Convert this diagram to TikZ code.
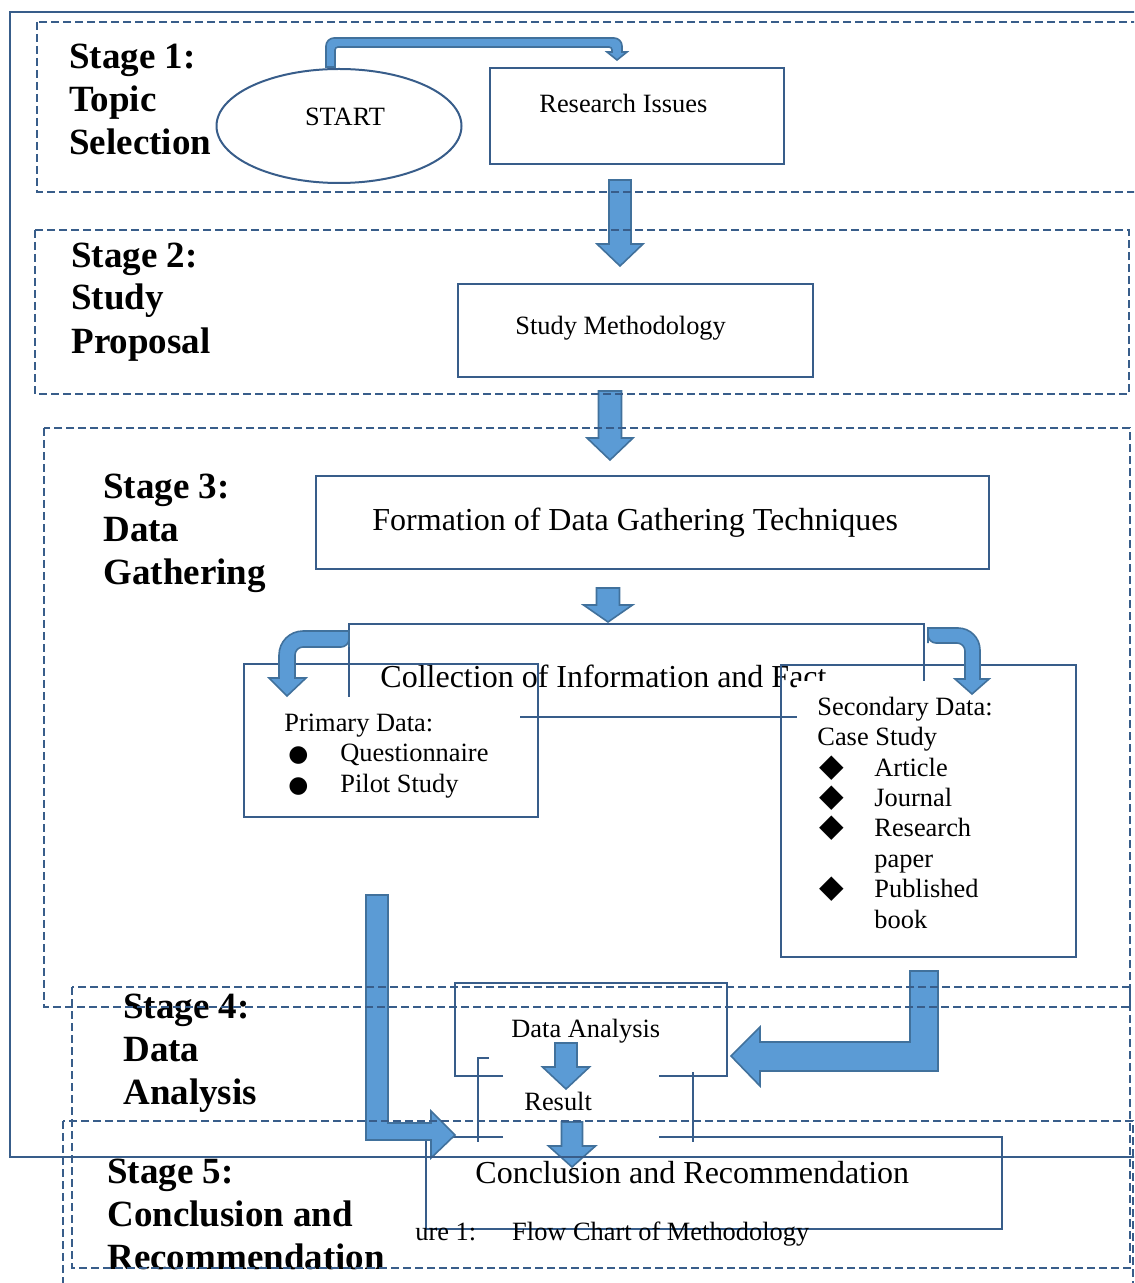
\documentclass[tikz,border=0pt]{standalone}
\usepackage{fontspec}
\setmainfont{Liberation Serif}
\newfontfamily\symfont{DejaVu Sans}
\usetikzlibrary{shapes.geometric}

\definecolor{framecol}{HTML}{385D8A}
\definecolor{arrowfill}{HTML}{5B9BD5}
\definecolor{arrowedge}{HTML}{41719C}

% straight block arrow pointing down: x, top, head start, tip, half shaft, half head
\newcommand{\blockdown}[6]{%
  \draw[blockarrow] (#1-#5,#2) -- (#1+#5,#2) -- (#1+#5,#3) -- (#1+#6,#3) -- (#1,#4)
    -- (#1-#6,#3) -- (#1-#5,#3) -- cycle;}
\newcommand{\dotbullet}{\makebox[28pt][l]{\hspace{2pt}{\symfont\fontsize{11.5}{15}\selectfont ●}}}
\newcommand{\diabullet}{\makebox[28.5pt][l]{\hspace{1pt}{\symfont\fontsize{16}{15}\selectfont ◆}}}

\begin{document}
\begin{tikzpicture}[x=0.5pt, y=-0.5pt,
    box/.style={draw=framecol, line width=1pt, inner sep=0pt},
    line/.style={draw=framecol, line width=1pt},
    frame/.style={draw=framecol, line width=1pt, dash pattern=on 4pt off 2pt},
    stage/.style={font=\fontsize{18.5}{21.5}\selectfont\bfseries, align=left, anchor=base west, inner sep=0pt},
    txt/.style={font=\fontsize{13.2}{15.2}\selectfont, align=left, anchor=base west, inner sep=0pt},
    bigtxt/.style={font=\fontsize{16}{19}\selectfont, anchor=base west, inner sep=0pt},
    blockarrow/.style={fill=arrowfill, draw=arrowedge, line width=0.8pt, line join=miter}
]
\useasboundingbox (0,0) rectangle (1134,1283);
\clip (0,0) rectangle (1134,1283);

% stage titles (placed at the baseline of their last line)
\node[stage] (stage1) at (69,155) {Stage 1:\\Topic\\Selection};
\node[stage] (stage2) at (71,353) {Stage 2:\\Study\\Proposal};
\node[stage] (stage3) at (103,584) {Stage 3:\\Data\\Gathering};
\node[stage] (stage4) at (123,1104) {Stage 4:\\Data\\Analysis};
\node[stage] (stage5) at (107,1269) {Stage 5:\\Conclusion and\\Recommendation};

% boxes
\node[box, ellipse, minimum width=122.5pt, minimum height=57pt] (start) at (339,126) {};
\node[txt, anchor=base] (starttext) at (345,126) {START};
\node[box, minimum width=147pt, minimum height=48pt] (research) at (637,116) {};
\node[txt] (researchtext) at (539,113) {Research Issues};
\node[box, minimum width=177.5pt, minimum height=46.5pt] (study) at (635.5,330.5) {};
\node[txt] (studytext) at (515,335) {Study Methodology};
\node[box, minimum width=336.5pt, minimum height=46.5pt] (formation) at (652.5,522.5) {};
\node[bigtxt] (formationtext) at (372,530) {Formation of Data Gathering Techniques};
\node[box, minimum width=287.5pt, minimum height=46.5pt] (collection) at (636.5,670.5) {};
\node[bigtxt] (collectiontext) at (380,687) {Collection of Information and Fact};
\node[box, minimum width=147pt, minimum height=76.5pt] (primary) at (391,740.5) {};
\node[box, minimum width=147.5pt, minimum height=146pt] (secondary) at (928.5,811) {};
\fill[white] (250,697) rectangle (520,811);
\fill[white] (797,681) rectangle (1068,950);
\node[txt] (primarytext) at (284,792) {Primary Data:\\\dotbullet Questionnaire\\\dotbullet Pilot Study};
\node[txt] (secondarytext) at (817,928) {Secondary Data:\\Case Study\\\diabullet Article\\\diabullet Journal\\\diabullet Research\\\hspace*{28.5pt}paper\\\diabullet Published\\\hspace*{28.5pt}book};

% analysis, result, conclusion
\draw[line] (503,1076) -- (455,1076) -- (455,983) -- (727,983) -- (727,1076) -- (659,1076);
\node[txt] (analysis) at (511,1037) {Data Analysis};
\node[txt] (result) at (524,1110) {Result};
\draw[line] (489,1058) -- (478,1058) -- (478,1142);
\draw[line] (693,1072) -- (693,1142);
\draw[line] (503,1137) -- (426,1137) -- (426,1229) -- (1002,1229) -- (1002,1137) -- (659,1137);
\node[bigtxt] (conclusion) at (475,1183) {Conclusion and Recommendation};
\node[txt] (caption) at (415,1240) {ure 1:\hspace{18pt}Flow Chart of Methodology};

% block arrows
\draw[blockarrow] (326,67) [rounded corners=4pt] -- (326,38) -- (622,38) [sharp corners] -- (622,52)
  -- (627,52) -- (617,60) -- (607,52) -- (612,52) [rounded corners=1.5pt] -- (612,47) -- (335,47)
  [sharp corners] -- (335,67) -- cycle;
\blockdown{620}{180}{244}{266}{11}{23}
\blockdown{610}{391}{438}{460}{11.5}{23}
\blockdown{608}{588}{605}{622}{11.5}{24.5}
\draw[blockarrow] (349,647) -- (349,631) [rounded corners=12pt] -- (279,631) [sharp corners] -- (279,678)
  -- (269,678) -- (287,696) -- (306,678) -- (295,678) [rounded corners=4pt] -- (295,647) -- (349,647)
  [sharp corners] -- cycle;
\draw[blockarrow] (928,643) -- (928,628) [rounded corners=11pt] -- (980,628) [sharp corners] -- (980,679)
  -- (989,679) -- (972,694) -- (955,679) -- (965,679) [rounded corners=4pt] -- (965,643) -- (928,643)
  [sharp corners] -- cycle;
\draw[blockarrow] (366,895) -- (388,895) -- (388,1123) -- (431,1123) -- (431,1111) -- (455,1135)
  -- (431,1158) -- (431,1140) -- (366,1140) -- cycle;
\draw[blockarrow] (910,971) -- (938,971) -- (938,1071) -- (760,1071) -- (760,1086) -- (731,1056)
  -- (760,1027) -- (760,1042) -- (910,1042) -- cycle;
\blockdown{566}{1043}{1067}{1089}{11}{23.5}
\blockdown{572}{1122}{1146}{1167}{10.5}{23.5}

% stage frames
\draw[frame] (37,22) rectangle (1150,192);
\draw[frame] (35,230) rectangle (1129,394);
\draw[frame] (44,428) rectangle (1130,1007);
\draw[frame] (72,987) rectangle (1130,1268);
\draw[frame] (63,1121) rectangle (1133,1300);

% outer border
\draw[line] (1150,12) -- (10,12) -- (10,1157) -- (1150,1157);
\end{tikzpicture}
\end{document}
